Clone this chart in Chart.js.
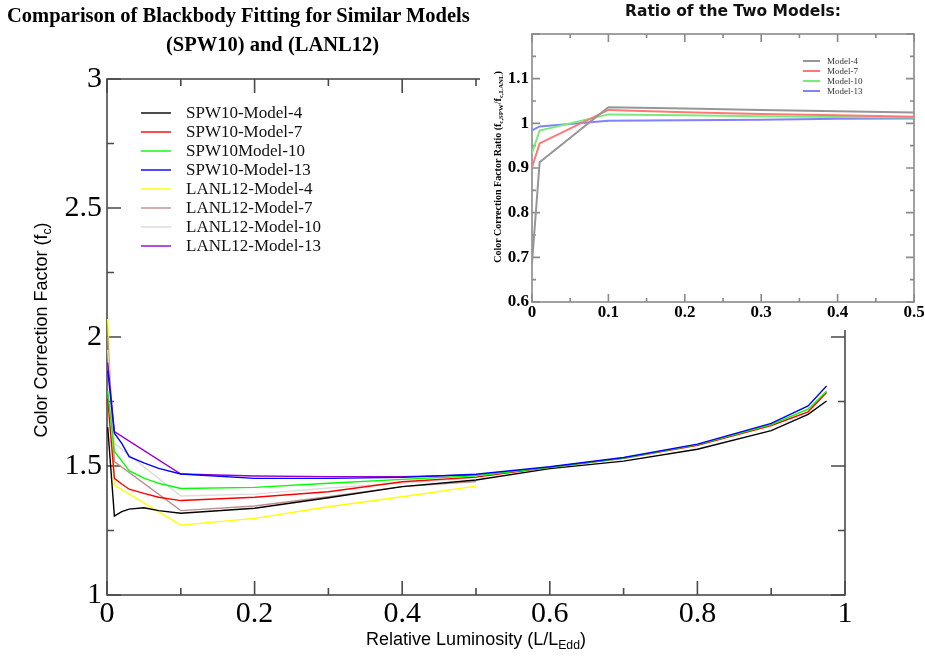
<!DOCTYPE html>
<html>
<head>
<meta charset="utf-8">
<title>Blackbody fitting comparison</title>
<script src="https://cdn.jsdelivr.net/npm/chart.js@4.4.1/dist/chart.umd.min.js"></script>
<style>
  html, body { margin: 0; padding: 0; background: #fff; }
  #wrap { position: relative; width: 925px; height: 662px; overflow: hidden; }
  #mainChart { position: absolute; left: 0; top: 0; }
  #insetBox { position: absolute; left: 480px; top: 0; width: 445px; height: 330px; background: #fff; }
  .title { position: absolute; font-family: "Liberation Serif", "Times New Roman", serif; font-weight: bold; font-size: 20.5px; line-height: 22px; white-space: nowrap; color: #000; }
  #insetTitle { position: absolute; left: 583px; top: 2px; width: 300px; text-align: center; font-family: "DejaVu Sans", sans-serif; font-weight: bold; font-size: 15.5px; color: #111; white-space: nowrap; }
</style>
</head>
<body>
<div id="wrap">
  <canvas id="mainChart" width="925" height="662"></canvas>
  <div class="title" style="left:7px; top:4px;">Comparison of Blackbody Fitting for Similar Models</div>
  <div class="title" style="left:166px; top:33px;">(SPW10) and (LANL12)</div>
  <div id="insetBox"><canvas id="insetChart" width="445" height="330"></canvas></div>
  <div id="insetTitle">Ratio of the Two Models:</div>
</div>
<script>
// ---- main chart data (color correction factor vs L/LEdd) ----
const spwX   = [0.001, 0.01, 0.02, 0.03, 0.05, 0.07, 0.1, 0.2, 0.3, 0.4, 0.5, 0.6, 0.7, 0.8, 0.9, 0.95, 0.975];
const spw4   = [1.65, 1.306, 1.323, 1.333, 1.338, 1.327, 1.317, 1.336, 1.377, 1.42, 1.446, 1.49, 1.519, 1.565, 1.637, 1.70, 1.752];
const spw7   = [1.76, 1.452, 1.43, 1.41, 1.394, 1.379, 1.366, 1.379, 1.40, 1.439, 1.457, 1.495, 1.53, 1.58, 1.657, 1.71, 1.785];
const spw10  = [1.79, 1.556, 1.52, 1.482, 1.453, 1.433, 1.413, 1.417, 1.433, 1.448, 1.462, 1.495, 1.531, 1.583, 1.661, 1.72, 1.79];
const spw13  = [1.87, 1.627, 1.588, 1.536, 1.512, 1.491, 1.469, 1.452, 1.452, 1.456, 1.468, 1.497, 1.533, 1.585, 1.665, 1.733, 1.81];

const lanlX  = [0.001, 0.01, 0.1, 0.2, 0.3, 0.4, 0.5];
const lanl4  = [2.07, 1.426, 1.271, 1.297, 1.342, 1.381, 1.422];
const lanl7  = [2.0, 1.517, 1.327, 1.345, 1.381, 1.42, 1.44];
const lanl10 = [1.95, 1.588, 1.384, 1.391, 1.415, 1.433, 1.455];
const lanl13 = [1.9, 1.633, 1.469, 1.461, 1.459, 1.459, 1.465];

const mainLabels = ['SPW10-Model-4', 'SPW10-Model-7', 'SPW10Model-10', 'SPW10-Model-13',
                    'LANL12-Model-4', 'LANL12-Model-7', 'LANL12-Model-10', 'LANL12-Model-13'];

const mainXTicks  = [0, 0.2, 0.4, 0.6, 0.8, 1];
const mainXLabels = ['0', '0.2', '0.4', '0.6', '0.8', '1'];
const mainXMinor  = [0.1, 0.3, 0.5, 0.7, 0.9];
const mainYTicks  = [1, 1.5, 2, 2.5, 3];
const mainYLabels = ['1', '1.5', '2', '2.5', '3'];
const mainYMinor  = [1.25, 1.75, 2.25, 2.75];

// ---- inset data (ratio SPW / LANL) ----
const ratioX   = [0, 0.01, 0.1, 0.2, 0.3, 0.4, 0.5];
const ratio4   = [0.687, 0.913, 1.036, 1.033, 1.03, 1.027, 1.024];
const ratio7   = [0.901, 0.955, 1.030, 1.025, 1.021, 1.018, 1.015];
const ratio10  = [0.933, 0.984, 1.020, 1.018, 1.016, 1.014, 1.013];
const ratio13  = [0.984, 0.993, 1.006, 1.007, 1.008, 1.010, 1.011];
const ratioLabels = ['Model-4', 'Model-7', 'Model-10', 'Model-13'];

const insetXTicks  = [0, 0.1, 0.2, 0.3, 0.4, 0.5];
const insetXLabels = ['0', '0.1', '0.2', '0.3', '0.4', '0.5'];
const insetXMinor  = [0.05, 0.15, 0.25, 0.35, 0.45];
const insetYTicks  = [0.6, 0.7, 0.8, 0.9, 1, 1.1, 1.2];
const insetYLabels = ['0.6', '0.7', '0.8', '0.9', '1', '1.1', ''];
const insetYMinor  = [0.65, 0.75, 0.85, 0.95, 1.05, 1.15];

const SERIF = '"Liberation Serif", "Times New Roman", serif';
const SANS = '"Liberation Sans", Arial, sans-serif';

function pts(xs, ys) {
  return xs.map((x, i) => ({ x: x, y: ys[i] }));
}

// frame box with inward ticks on all four sides
const framePlugin = {
  id: 'frame',
  beforeDatasetsDraw(chart, args, o) {
    const { ctx, chartArea: a, scales } = chart;
    ctx.save();
    ctx.strokeStyle = o.color;
    ctx.lineWidth = o.width;
    ctx.strokeRect(a.left, a.top, a.right - a.left, a.bottom - a.top);
    ctx.beginPath();
    const xt = (vals, len) => vals.forEach(v => {
      const px = scales.x.getPixelForValue(v);
      ctx.moveTo(px, a.bottom); ctx.lineTo(px, a.bottom - len);
      ctx.moveTo(px, a.top); ctx.lineTo(px, a.top + len);
    });
    const yt = (vals, len) => vals.forEach(v => {
      const py = scales.y.getPixelForValue(v);
      ctx.moveTo(a.left, py); ctx.lineTo(a.left + len, py);
      ctx.moveTo(a.right, py); ctx.lineTo(a.right - len, py);
    });
    xt(o.xMajor, o.major); xt(o.xMinor, o.minor);
    yt(o.yMajor, o.major); yt(o.yMinor, o.minor);
    ctx.stroke();
    ctx.restore();
  }
};

// text with subscripts: parts = [[text, isSub], ...]
function drawParts(ctx, parts, cx, cy, size, font, weight, rotate) {
  ctx.save();
  ctx.translate(cx, cy);
  if (rotate) ctx.rotate(-Math.PI / 2);
  const subSize = size * 0.68;
  let total = 0;
  parts.forEach(p => {
    ctx.font = weight + ' ' + (p[1] ? subSize : size) + 'px ' + font;
    total += ctx.measureText(p[0]).width;
  });
  let x = -total / 2;
  ctx.textBaseline = 'middle';
  ctx.fillStyle = '#000';
  parts.forEach(p => {
    ctx.font = weight + ' ' + (p[1] ? subSize : size) + 'px ' + font;
    ctx.fillText(p[0], x, p[1] ? size * 0.32 : 0);
    x += ctx.measureText(p[0]).width;
  });
  ctx.restore();
}

const labelsPlugin = {
  id: 'extraText',
  afterDraw(chart, args, o) {
    const ctx = chart.ctx;
    (o.titles || []).forEach(t => drawParts(ctx, t.parts, t.cx, t.cy, t.size, t.font, t.weight, t.rotate));
    const lg = o.legend;
    if (!lg) return;
    ctx.save();
    ctx.font = lg.size + 'px ' + lg.font;
    ctx.textBaseline = 'middle';
    chart.data.datasets.forEach((ds, i) => {
      const y = lg.y0 + i * lg.dy;
      ctx.strokeStyle = ds.borderColor;
      ctx.lineWidth = lg.lineWidth;
      ctx.beginPath();
      ctx.moveTo(lg.x1, y); ctx.lineTo(lg.x2, y);
      ctx.stroke();
      ctx.fillStyle = lg.textColor;
      ctx.fillText(ds.label, lg.tx, y + 1);
    });
    ctx.restore();
  }
};

function axisOpts(ticks, labels, fontSpec, fit, pad) {
  return {
    type: 'linear',
    min: ticks[0],
    max: ticks[ticks.length - 1],
    grid: { display: false, drawTicks: false },
    border: { display: false },
    afterBuildTicks: s => { s.ticks = ticks.map(v => ({ value: v })); },
    afterFit: fit,
    ticks: {
      autoSkip: false,
      maxRotation: 0,
      padding: pad,
      color: '#000',
      font: fontSpec,
      callback: (v, i) => labels[i]
    }
  };
}

const mainColors = ['#000000', 'rgb(255,0,0)', 'rgb(0,255,0)', 'rgb(0,0,255)',
                    'rgb(255,255,0)', 'rgb(188,143,143)', 'rgb(220,220,220)', 'rgb(148,0,211)'];
const mainSeries = [pts(spwX, spw4), pts(spwX, spw7), pts(spwX, spw10), pts(spwX, spw13),
                    pts(lanlX, lanl4), pts(lanlX, lanl7), pts(lanlX, lanl10), pts(lanlX, lanl13)];

// draw LANL first so SPW lines sit on top, as in the original
const order = [4, 5, 6, 7, 0, 1, 2, 3];

new Chart(document.getElementById('mainChart'), {
  type: 'line',
  data: {
    datasets: mainLabels.map((lab, i) => ({
      label: lab,
      data: mainSeries[i],
      borderColor: mainColors[i],
      borderWidth: 1.4,
      pointRadius: 0,
      tension: 0,
      order: order.indexOf(i) * -1
    }))
  },
  options: {
    responsive: false,
    animation: false,
    layout: { padding: { left: 0, right: 80, top: 79, bottom: 0 }, autoPadding: false },
    plugins: {
      legend: { display: false },
      tooltip: { enabled: false },
      frame: {
        color: '#4a4a4a', width: 1.6, major: 14, minor: 7,
        xMajor: mainXTicks, xMinor: mainXMinor, yMajor: mainYTicks, yMinor: mainYMinor
      },
      extraText: {
        titles: [
          { parts: [['Relative Luminosity (L/L', false], ['Edd', true], [')', false]],
            cx: 476, cy: 640, size: 18, font: SANS, weight: 'normal', rotate: false },
          { parts: [['Color Correction Factor (f', false], ['c', true], [')', false]],
            cx: 42, cy: 330, size: 18, font: SANS, weight: 'normal', rotate: true }
        ],
        legend: { x1: 141, x2: 171, tx: 186, y0: 113, dy: 19, size: 17, font: SERIF,
                  lineWidth: 1.4, textColor: '#111' }
      }
    },
    scales: {
      x: axisOpts(mainXTicks, mainXLabels, { family: SERIF, size: 30 },
                  s => { s.height = 67; }, 1),
      y: axisOpts(mainYTicks, mainYLabels, { family: SERIF, size: 30 },
                  s => { s.width = 107; }, 5)
    }
  },
  plugins: [framePlugin, labelsPlugin]
});

// ---- inset ----
const insetColors = ['rgb(150,150,150)', 'rgb(255,120,120)', 'rgb(120,235,120)', 'rgb(130,130,255)'];
const insetSeries = [pts(ratioX, ratio4), pts(ratioX, ratio7), pts(ratioX, ratio10), pts(ratioX, ratio13)];

new Chart(document.getElementById('insetChart'), {
  type: 'line',
  data: {
    datasets: ratioLabels.map((lab, i) => ({
      label: lab,
      data: insetSeries[i],
      borderColor: insetColors[i],
      borderWidth: 2,
      pointRadius: 0,
      tension: 0
    }))
  },
  options: {
    responsive: false,
    animation: false,
    layout: { padding: { left: 0, right: 11, top: 34, bottom: 0 }, autoPadding: false },
    plugins: {
      legend: { display: false },
      tooltip: { enabled: false },
      frame: {
        color: '#8a8a8a', width: 1.6, major: 8, minor: 4,
        xMajor: insetXTicks, xMinor: insetXMinor, yMajor: insetYTicks, yMinor: insetYMinor
      },
      extraText: {
        titles: [
          { parts: [['Color Correction Factor Ratio (f', false], ['c,SPW', true], ['/f', false], ['c,LANL', true], [')', false]],
            cx: 18, cy: 167, size: 10, font: SERIF, weight: 'bold', rotate: true }
        ],
        legend: { x1: 323, x2: 340, tx: 347, y0: 61, dy: 10, size: 9, font: SERIF,
                  lineWidth: 2, textColor: '#333' }
      }
    },
    scales: {
      x: axisOpts(insetXTicks, insetXLabels, { family: SERIF, size: 17, weight: 'bold' },
                  s => { s.height = 28; }, 0),
      y: axisOpts(insetYTicks, insetYLabels, { family: SERIF, size: 17, weight: 'bold' },
                  s => { s.width = 52; }, 3)
    }
  },
  plugins: [framePlugin, labelsPlugin]
});
</script>
</body>
</html>
